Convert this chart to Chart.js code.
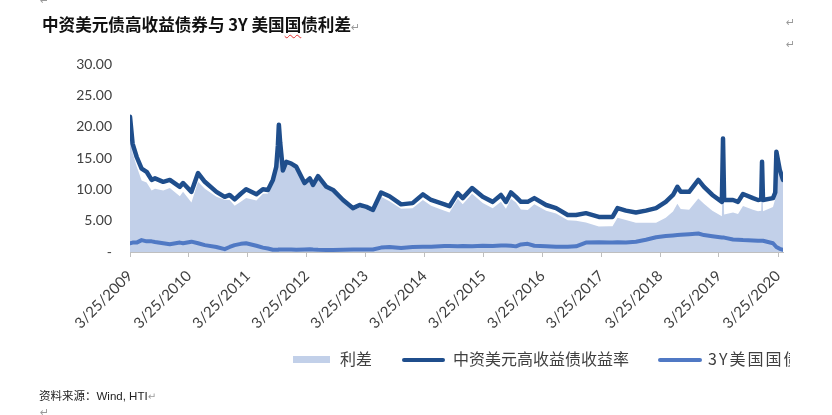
<!DOCTYPE html>
<html><head><meta charset="utf-8">
<script src="https://cdn.jsdelivr.net/npm/chart.js@4.4.1/dist/chart.umd.min.js"></script>
<style>
html,body{margin:0;padding:0;background:#fff;width:832px;height:415px;overflow:hidden;position:relative;font-family:"Noto Sans CJK SC",sans-serif;}
#c{position:absolute;left:0;top:0;}
.t{position:absolute;white-space:nowrap;}
.ret{position:absolute;color:#9a9a9a;font-size:11px;line-height:11px;font-family:"DejaVu Sans",sans-serif;}
#title{left:42px;top:16px;font-size:16.6px;line-height:17px;font-weight:700;color:#111;}
#title .sq{text-decoration:underline wavy #e03030;text-decoration-thickness:1px;text-underline-offset:3px;}
#legend{position:absolute;left:0;top:348px;width:790px;height:24px;overflow:hidden;}
.lg{position:absolute;}
.lt{position:absolute;top:1px;font-size:16px;line-height:19px;color:#404040;white-space:nowrap;}
#src{left:39px;top:389px;font-size:11.5px;line-height:14px;color:#222;font-family:"Liberation Sans","Noto Sans CJK SC",sans-serif;}
</style></head>
<body>
<canvas id="c" width="832" height="415"></canvas>
<div class="ret" style="left:40px;top:-5px;">↵</div>
<div class="t" id="title">中资美元债高收益债券与 3Y 美国<span class="sq">国</span>债利差<span style="color:#9a9a9a;font-weight:400;font-size:11px;font-family:'DejaVu Sans'">↵</span></div>
<div class="ret" style="left:786px;top:17px;">↵</div>
<div class="ret" style="left:786px;top:39px;">↵</div>
<div id="legend">
  <div class="lg" style="left:293px;top:8px;width:37px;height:7px;background:#C2D0E9;"></div>
  <div class="lt" style="left:340px;">利差</div>
  <div class="lg" style="left:402px;top:9.5px;width:43px;height:4.5px;border-radius:3px;background:#1F4E8C;"></div>
  <div class="lt" style="left:453px;">中资美元高收益债收益率</div>
  <div class="lg" style="left:658px;top:9.5px;width:44px;height:4.5px;border-radius:3px;background:#5079C4;"></div>
  <div class="lt" style="left:708px;letter-spacing:2px;">3Y美国国债</div>
</div>
<div class="t" id="src">资料来源：Wind, HTI<span style="color:#9a9a9a;font-size:10px;font-family:'DejaVu Sans'">↵</span></div>
<div class="ret" style="left:40px;top:407px;">↵</div>
<script>
const dates = ['2009-03-25','2009-04-10','2009-05-05','2009-06-05','2009-07-06','2009-08-06','2009-08-27','2009-10-17','2009-11-27',
'2010-01-28','2010-02-17','2010-04-10','2010-05-21','2010-07-02','2010-09-12','2010-11-02','2010-12-03',
'2011-01-03','2011-02-10','2011-03-15','2011-05-18','2011-06-27','2011-07-28','2011-08-28','2011-09-18','2011-09-28','2011-10-04','2011-10-12','2011-10-19','2011-10-29','2011-11-19','2011-12-20',
'2012-01-20','2012-03-11','2012-04-13','2012-05-03','2012-06-03','2012-07-25','2012-09-04','2012-11-05',
'2013-01-06','2013-02-16','2013-03-30','2013-05-09','2013-06-29','2013-08-20','2013-10-31',
'2014-01-10','2014-03-15','2014-05-05','2014-07-27','2014-08-27','2014-10-17','2014-11-17',
'2015-01-14','2015-03-21','2015-05-22','2015-07-12','2015-08-12','2015-09-12','2015-10-13','2015-11-13','2015-12-25',
'2016-02-04','2016-04-17','2016-06-18','2016-08-29','2016-10-20','2016-12-20',
'2017-03-10','2017-05-13','2017-06-03','2017-07-04','2017-08-25','2017-10-26','2017-12-27',
'2018-02-28','2018-04-29','2018-06-13','2018-07-10','2018-07-31','2018-09-21','2018-11-17','2018-12-22',
'2019-02-12','2019-04-12','2019-04-19','2019-04-26','2019-06-20','2019-07-21','2019-08-21','2019-10-22','2019-11-22','2019-12-12','2019-12-17','2019-12-23',
'2020-02-23','2020-03-08','2020-03-15','2020-04-05','2020-04-25'];

const yieldHY = [21.6,17.3,15.2,13.3,12.8,11.5,11.75,11.2,11.5,
10.4,11.0,9.6,12.6,11.2,9.6,8.8,9.1,
8.4,9.3,10.0,9.2,10.0,9.9,11.5,13.6,17.0,20.3,17.5,15.7,13.0,14.4,14.1,
13.6,11.0,11.75,10.7,12.1,10.4,9.9,8.3,
7.0,7.5,7.2,6.7,9.5,8.9,7.6,
7.8,9.2,8.3,7.6,7.3,9.4,8.6,
10.2,8.8,8.0,9.1,8.0,9.5,8.8,8.0,8.0,
8.6,7.5,7.0,5.9,5.9,6.2,
5.6,5.6,5.6,7.0,6.6,6.3,6.6,
7.0,8.0,9.1,10.4,9.6,9.6,11.5,10.4,
9.1,8.0,18.1,8.3,8.3,8.0,9.25,8.6,8.3,8.4,14.4,8.3,
8.6,9.5,16.0,13.1,11.5];

const ust3y = [1.4,1.5,1.5,1.9,1.7,1.7,1.6,1.4,1.25,
1.5,1.4,1.65,1.4,1.1,0.8,0.45,0.8,
1.1,1.3,1.4,1.0,0.7,0.55,0.35,0.35,0.35,0.4,0.4,0.4,0.4,0.4,0.4,
0.35,0.4,0.45,0.4,0.35,0.33,0.33,0.35,
0.38,0.4,0.4,0.4,0.7,0.8,0.65,
0.8,0.85,0.85,0.95,0.95,0.9,0.95,
0.9,1.0,0.95,1.05,1.05,1.0,0.9,1.2,1.3,
1.0,0.9,0.85,0.85,0.9,1.5,
1.55,1.5,1.5,1.55,1.5,1.65,1.95,
2.35,2.55,2.65,2.7,2.75,2.85,2.95,2.7,
2.5,2.3,2.3,2.3,2.0,1.95,1.9,1.85,1.8,1.8,1.8,1.8,
1.4,1.0,0.8,0.5,0.35];

const spread = [20.0,15.8,13.7,11.4,11.1,9.8,10.1,9.8,10.2,
8.9,9.6,7.9,11.2,10.1,8.8,8.35,8.3,
7.4,8.0,8.6,8.2,9.3,9.35,11.1,13.2,16.6,19.9,17.1,15.3,12.6,14.0,13.7,
13.2,10.6,11.3,10.3,11.7,10.0,9.5,7.9,
6.6,7.1,6.8,6.3,8.8,8.1,6.9,
7.0,8.3,7.4,6.6,6.3,8.5,7.6,
9.3,7.8,7.0,8.0,6.9,8.5,7.9,6.8,6.7,
7.6,6.6,6.15,5.05,5.0,4.7,
4.05,4.1,4.1,5.45,5.1,4.65,4.65,
4.65,5.45,6.45,7.7,6.85,6.75,8.55,7.7,
6.6,5.7,15.8,6.0,6.3,6.05,7.35,6.75,6.5,6.6,12.6,6.5,
7.2,8.5,15.2,12.6,11.2];

const tickYears = [2009,2010,2011,2012,2013,2014,2015,2016,2017,2018,2019,2020];
const yTicks = [0,5,10,15,20,25,30];

const toMs = s => { const p = s.split('-').map(Number); return Date.UTC(p[0], p[1]-1, p[2]); };
const xs = dates.map(toMs);
const pts = arr => arr.map((v,i) => ({x: xs[i], y: v}));

new Chart(document.getElementById('c').getContext('2d'), {
  type: 'line',
  data: { datasets: [
    {label:'中资美元高收益债收益率', data: pts(yieldHY), borderColor:'#1F4E8C', borderWidth:4.5, pointRadius:0, fill:false, order:0, borderJoinStyle:'round', borderCapStyle:'round', tension:0},
    {label:'3Y美国国债', data: pts(ust3y), borderColor:'#5079C4', borderWidth:4, pointRadius:0, fill:false, order:1, borderJoinStyle:'round', borderCapStyle:'round', tension:0},
    {label:'利差', data: pts(spread), borderWidth:0, borderColor:'rgba(0,0,0,0)', backgroundColor:'#C2D0E9', fill:'origin', pointRadius:0, order:2, tension:0}
  ]},
  options: {
    responsive:false, animation:false, events:[],
    layout:{padding:{left:0,right:49,top:64,bottom:0}},
    plugins:{legend:{display:false}, tooltip:{enabled:false}},
    scales:{
      x:{type:'linear', min: xs[0], max: xs[xs.length-1],
        afterBuildTicks: s => { s.ticks = tickYears.map(y => ({value: Date.UTC(y,2,25)})); },
        afterFit: s => { s.height = 163; },
        grid:{drawOnChartArea:false, drawTicks:true, tickLength:5, color:'#BFBFBF'},
        border:{display:true, color:'#BFBFBF'},
        ticks:{autoSkip:false, minRotation:45, maxRotation:45, padding:10, color:'#404040', font:{family:'Lato', size:15},
          callback: v => { const d = new Date(v); return (d.getUTCMonth()+1)+'/'+d.getUTCDate()+'/'+d.getUTCFullYear(); }}
      },
      y:{min:0, max:30,
        afterBuildTicks: s => { s.ticks = yTicks.map(v => ({value: v})); },
        afterFit: s => { s.width = 130; },
        grid:{display:false, drawTicks:false}, border:{display:false},
        ticks:{padding:18, color:'#404040', font:{family:'Lato', size:14}, callback: v => v === 0 ? '-' : Number(v).toFixed(2)}
      }
    }
  }
});
</script>
</body></html>
